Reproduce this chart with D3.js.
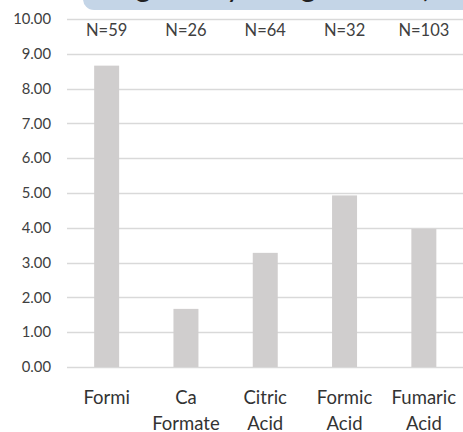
<!DOCTYPE html>
<html>
<head>
<meta charset="utf-8">
<script src="https://cdn.jsdelivr.net/npm/d3@7"></script>
<style>
  html, body { margin: 0; padding: 0; background: #fff; }
  svg { display: block; overflow: hidden; }
</style>
</head>
<body>
<svg id="chart" width="463" height="432"></svg>
<script>
const categories = [["Formi"], ["Ca", "Formate"], ["Citric", "Acid"], ["Formic", "Acid"], ["Fumaric", "Acid"]];
const values = [8.66, 1.67, 3.28, 4.93, 3.97];
const nLabels = ["N=59", "N=26", "N=64", "N=32", "N=103"];
const yTicks = [0, 1, 2, 3, 4, 5, 6, 7, 8, 9, 10];
const titleText = "Average Daily Weight Gain (lbs/day)";

const W = 463, H = 432;
const svg = d3.select("#chart");
const font = "Lato, 'Open Sans', sans-serif";

const x = d3.scaleBand().domain(d3.range(categories.length)).range([67, 463.5])
  .paddingInner(0.685).paddingOuter(0.3425);
const y = d3.scaleLinear().domain([0, 10]).range([367, 19]);

// title banner (clipped at the top)
svg.append("rect").attr("x", 83).attr("y", -40).attr("width", 420).attr("height", 50)
  .attr("rx", 11).attr("fill", "#c4d5e7");
svg.append("text").attr("x", 60).attr("y", -3).attr("font-family", font)
  .attr("font-size", 30).attr("fill", "#222").text(titleText);

// gridlines
svg.append("g").selectAll("line").data(yTicks).join("line")
  .attr("x1", 67).attr("x2", 463)
  .attr("y1", d => Math.round(y(d)) + 0.5).attr("y2", d => Math.round(y(d)) + 0.5)
  .attr("stroke", "#d9d9d9").attr("stroke-width", 1.3);

// y axis labels
const yAxis = d3.axisLeft(y).tickValues(yTicks).tickFormat(d3.format(".2f")).tickSize(0).tickPadding(0);
const yg = svg.append("g").attr("transform", "translate(51,0)").call(yAxis);
yg.select(".domain").remove();
yg.selectAll("text").attr("font-family", font).attr("font-size", 14.8).attr("fill", "#404040");

// bars
svg.append("g").selectAll("rect").data(values).join("rect")
  .attr("x", (d, i) => x(i)).attr("width", x.bandwidth())
  .attr("y", d => y(d)).attr("height", d => y(0) - y(d))
  .attr("fill", "#d0cece");

// N labels
svg.append("g").selectAll("text").data(nLabels).join("text")
  .attr("x", (d, i) => x(i) + x.bandwidth() / 2).attr("y", 36)
  .attr("text-anchor", "middle").attr("font-family", font).attr("font-size", 16.5)
  .attr("fill", "#404040").text(d => d);

// category labels
const cg = svg.append("g").selectAll("text").data(categories).join("text")
  .attr("text-anchor", "middle").attr("font-family", font).attr("font-size", 18.5)
  .attr("fill", "#333");
cg.each(function(lines, i) {
  const t = d3.select(this);
  const cx = x(i) + x.bandwidth() / 2;
  lines.forEach((s, j) => {
    t.append("tspan").attr("x", cx).attr("y", 404 + j * 25.5).text(s);
  });
  const bb = this.getBBox();
  const over = bb.x + bb.width - (W - 4);
  if (over > 0) t.selectAll("tspan").attr("x", cx - over);
});
</script>
</body>
</html>
